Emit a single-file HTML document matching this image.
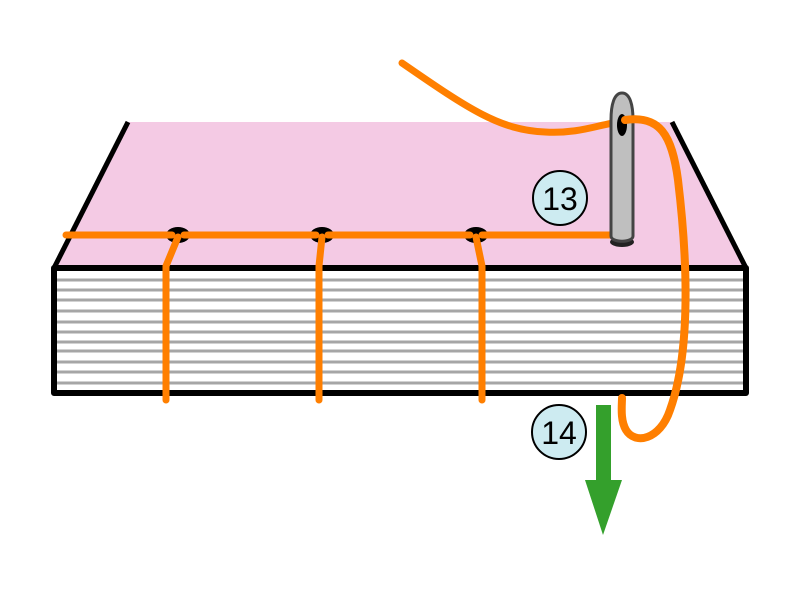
<!DOCTYPE html>
<html><head><style>body{margin:0;background:#fff}svg{display:block}</style></head><body>
<svg width="800" height="600" viewBox="0 0 800 600" xmlns="http://www.w3.org/2000/svg">
<polygon points="128,122 672,122 746,268 54,268" fill="#f4cae4"/>
<path d="M128,122 L54,268" stroke="#000" stroke-width="5" fill="none"/>
<path d="M672,122 L746,268" stroke="#000" stroke-width="5" fill="none"/>
<rect x="54" y="268" width="692" height="125" fill="#fff"/>
<g stroke="#a6a6a6" stroke-width="3">
<line x1="56" x2="744" y1="280" y2="280"/><line x1="56" x2="744" y1="290" y2="290"/>
<line x1="56" x2="744" y1="300" y2="300"/><line x1="56" x2="744" y1="311" y2="311"/>
<line x1="56" x2="744" y1="322" y2="322"/><line x1="56" x2="744" y1="332" y2="332"/>
<line x1="56" x2="744" y1="342" y2="342"/><line x1="56" x2="744" y1="351" y2="351"/>
<line x1="56" x2="744" y1="362" y2="362"/><line x1="56" x2="744" y1="372" y2="372"/>
<line x1="56" x2="744" y1="383" y2="383"/>
</g>
<rect x="54" y="268" width="692" height="125" fill="none" stroke="#000" stroke-width="6" stroke-linejoin="round"/>
<g fill="#000"><ellipse cx="178" cy="235" rx="12" ry="8"/><ellipse cx="322" cy="235" rx="12" ry="8"/><ellipse cx="476" cy="235" rx="12" ry="8"/></g>
<g stroke="#ff7f00" stroke-width="7" fill="none" stroke-linecap="round" stroke-linejoin="round">
<path d="M66,235 H172 M184,235 H316 M328,235 H470 M482,235 H618"/>
<path d="M178,237 L166,266 V400"/>
<path d="M322,237 L319,266 V400"/>
<path d="M476,237 L482,266 V400"/>
<path d="M402,63 C470,110 500,130 545,132 C580,134 600,124 620,122"/>
</g>
<ellipse cx="622" cy="242" rx="12" ry="5" fill="#222"/>
<path d="M622,93 C630,93 633,105 633,120 L633,236 C633,243 611,243 611,236 L611,120 C611,105 614,93 622,93 Z" fill="#bfbfbf" stroke="#444" stroke-width="3"/>
<ellipse cx="622" cy="125" rx="5" ry="11" fill="#000"/>
<path d="M625,120 C660,115 672,135 678,180 C690,280 688,360 670,410 C660,440 635,445 626,430 C620,420 622,405 622,398" stroke="#ff7f00" stroke-width="8" fill="none" stroke-linecap="round"/>
<g font-family="Liberation Sans, sans-serif" font-size="32" text-anchor="middle">
<circle cx="560" cy="198" r="27" fill="#cdebf1" stroke="#000" stroke-width="2"/>
<text x="560" y="210">13</text>
<circle cx="559" cy="432" r="27" fill="#cdebf1" stroke="#000" stroke-width="2"/>
<text x="559" y="444">14</text>
</g>
<rect x="596" y="405" width="15" height="77" fill="#34a02c"/>
<polygon points="585,480 622,480 603,535" fill="#34a02c"/>
</svg>
</body></html>
